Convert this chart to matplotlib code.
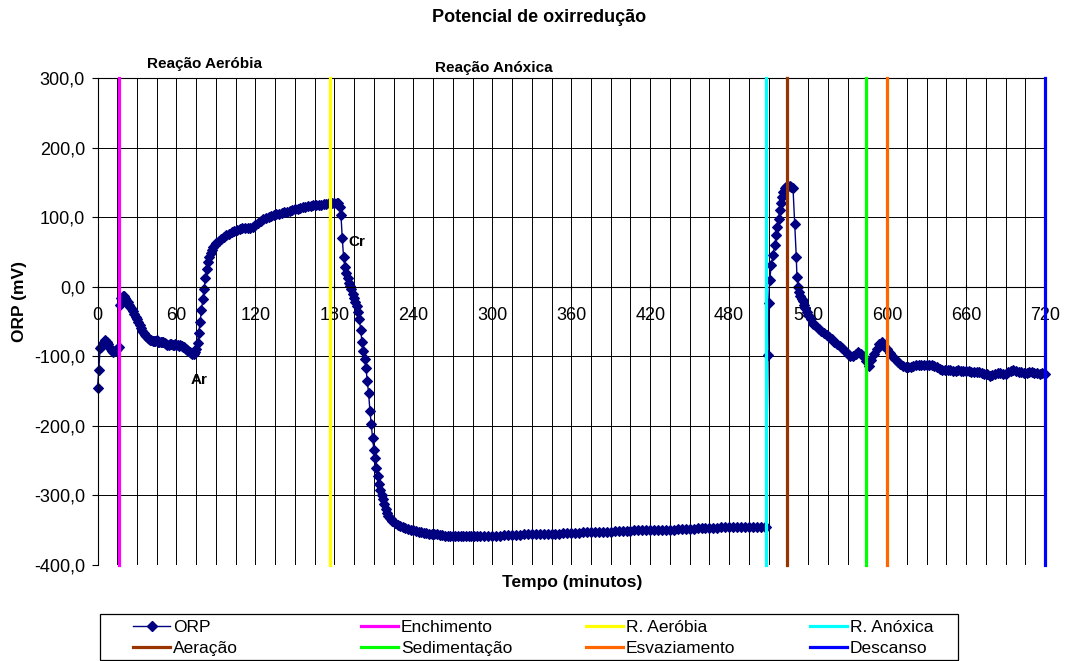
import numpy as np
import matplotlib
matplotlib.use("Agg")
import matplotlib.pyplot as plt
from matplotlib.lines import Line2D
from matplotlib.patches import Rectangle
from matplotlib.ticker import MultipleLocator, FuncFormatter

plt.rcParams['font.family'] = ['Liberation Sans', 'DejaVu Sans']

# ORP readings (mV), sampled at irregular steps along the 720 min cycle
t_seg1 = np.arange(0, 91, 1)
orp_seg1 = [-145, -119, -88, -86, -82, -79, -77, -79, -83, -86,
            -89, -92, -94, -93, -91, -89, -87, -26, -16, -13,
            -14, -16, -19, -22, -26, -29, -32, -35, -39, -43,
            -47, -51, -55, -59, -63, -66, -69, -71, -73, -75,
            -76, -77, -78, -78, -78, -77, -79, -80, -80, -79,
            -80, -81, -83, -84, -84, -83, -83, -84, -84, -83,
            -84, -84, -85, -84, -85, -86, -87, -89, -91, -93,
            -94, -95, -96, -96, -94, -90, -81, -66, -50, -34,
            -18, -3, 12, 25, 35, 42, 48, 53, 57, 60,
            63]

t_seg2 = np.arange(92, 183, 2)
orp_seg2 = [66, 68, 71, 74, 76, 78, 80, 82, 83, 84,
            84, 85, 85, 86, 88, 92, 95, 97, 99, 100,
            101, 103, 104, 105, 106, 107, 108, 109, 110, 111,
            112, 113, 114, 115, 116, 116, 117, 117, 118, 118,
            119, 119, 120, 120, 121, 121]

t_seg3 = np.arange(183, 225, 1)
orp_seg3 = [120, 115, 103, 70, 42, 29, 20, 13, 6, 1,
            -4, -10, -16, -22, -28, -36, -46, -62, -80, -93,
            -104, -117, -135, -153, -178, -198, -217, -234, -246, -260,
            -272, -284, -292, -299, -305, -313, -320, -325, -329, -332,
            -334, -337]

t_seg4 = np.arange(226, 289, 2)
orp_seg4 = [-340, -342, -344, -346, -347, -348, -349, -350, -351, -352,
            -353, -354, -354, -355, -355, -356, -356, -357, -357, -358,
            -358, -358, -358, -359, -359, -359, -359, -359, -359, -359,
            -359, -359]

t_seg5 = np.arange(291, 508, 3)
orp_seg5 = [-359, -358, -358, -358, -358, -358, -357, -357, -357, -357,
            -357, -356, -356, -356, -356, -356, -355, -355, -355, -355,
            -355, -354, -354, -354, -354, -354, -353, -353, -353, -353,
            -352, -352, -352, -352, -351, -351, -351, -351, -351, -350,
            -350, -350, -350, -350, -349, -349, -349, -349, -349, -349,
            -348, -348, -348, -348, -348, -347, -347, -347, -347, -347,
            -347, -346, -346, -346, -346, -346, -346, -346, -345, -345,
            -346, -346, -346]

t_seg6 = [508, 509.5, 510, 510.8, 512, 513.3, 514.6, 515.9, 516.7, 517.7,
          518.4, 519.2, 520.2, 521, 522.2, 523, 524, 525, 526, 527,
          528.5, 529.8, 531, 531.5, 532.3, 533, 534, 535, 536, 537,
          538, 539, 540]
orp_seg6 = [-346, -98, -24, 10, 31, 45, 60, 74, 86, 98,
            110, 120, 129, 136, 142, 144, 145, 145, 145, 144,
            142, 90, 43, 14, 0, -7, -13, -17, -21, -26,
            -31, -36, -40]

t_seg7 = np.arange(542, 721, 2)
orp_seg7 = [-47, -53, -57, -61, -64, -67, -70, -72, -75, -79,
            -82, -85, -88, -93, -97, -100, -100, -96, -94, -96,
            -100, -107, -114, -106, -97, -89, -83, -80, -85, -90,
            -95, -100, -104, -108, -111, -114, -116, -116, -115, -114,
            -113, -113, -113, -112, -112, -113, -113, -114, -116, -118,
            -119, -119, -120, -120, -121, -121, -120, -121, -121, -121,
            -121, -122, -122, -122, -123, -124, -125, -126, -128, -127,
            -125, -124, -124, -125, -125, -122, -121, -120, -121, -122,
            -123, -124, -124, -123, -123, -124, -124, -125, -124, -126]

tempo = np.concatenate([t_seg1, t_seg2, t_seg3, t_seg4, t_seg5, t_seg6, t_seg7])
orp = np.concatenate([orp_seg1, orp_seg2, orp_seg3, orp_seg4, orp_seg5, orp_seg6, orp_seg7])

# start of each stage of the cycle (min)
etapas = ['Enchimento', 'R. Aeróbia', 'R. Anóxica', 'Aeração',
          'Sedimentação', 'Esvaziamento', 'Descanso']
etapas_t = [16, 177, 508, 524, 584, 600, 720]
etapas_cor = ['#FF00FF', '#FFFF00', '#00FFFF', '#993300',
              '#00FF00', '#FF6600', '#0000FF']

W, H = 1070, 661
fig = plt.figure(figsize=(W / 100, H / 100), dpi=100)
ax = fig.add_axes([97.5 / W, 1 - 565 / H, (1045 - 97.5) / W, (565 - 78) / H])

ax.set_xlim(0, 720)
ax.set_ylim(-400, 300)
ax.xaxis.set_major_locator(MultipleLocator(60))
ax.xaxis.set_minor_locator(MultipleLocator(15))
ax.yaxis.set_major_locator(MultipleLocator(100))
ax.yaxis.set_major_formatter(FuncFormatter(lambda v, _: f"{v:.1f}".replace('.', ',')))

ax.set_axisbelow(True)
ax.grid(which='both', axis='x', color='black', lw=0.7)
ax.grid(which='major', axis='y', color='black', lw=0.7)

ax.spines['bottom'].set_position(('data', 0))
for s in ['top', 'right', 'left', 'bottom']:
    ax.spines[s].set_linewidth(0.8)
ax.tick_params(axis='x', which='major', length=5, direction='inout', pad=12, labelsize=13)
ax.tick_params(axis='x', which='minor', length=0)
ax.tick_params(axis='y', length=4, direction='out', pad=5, labelsize=13)

ax.plot(tempo, orp, color='#000080', lw=1.0, marker='D', ms=5.0,
        mfc='#000080', mec='#000080', mew=0.8, zorder=2.5, clip_on=False)

for t, c in zip(etapas_t, etapas_cor):
    ax.axvline(t, color=c, lw=2.3, zorder=3, clip_on=False)

# annotations
ax.text(81, 320, 'Reação Aeróbia', ha='center', va='center', fontsize=11,
        fontweight='bold', clip_on=False)
ax.text(301, 315, 'Reação Anóxica', ha='center', va='center', fontsize=11,
        fontweight='bold', clip_on=False)
ax.text(77, -134, 'Ar', ha='center', va='center', fontsize=11, fontweight='bold')
ax.text(197, 64, 'Cr', ha='center', va='center', fontsize=11, fontweight='bold')

fig.text(539 / W, 1 - 17 / H, 'Potencial de oxirredução', ha='center', va='center',
         fontsize=13, fontweight='bold')
fig.text(572 / W, 1 - 583 / H, 'Tempo (minutos)', ha='center', va='center',
         fontsize=12.5, fontweight='bold')
fig.text(20 / W, 1 - 302 / H, 'ORP (mV)', ha='center', va='center', rotation=90,
         fontsize=12.5, fontweight='bold')

# legend box, four columns by two rows
fig.add_artist(Rectangle((100 / W, 1 - 660 / H), (958 - 100) / W, (660 - 614) / H,
                         transform=fig.transFigure, fill=False, ec='black', lw=0.9))
col_x = [133, 361, 586, 810]
row_y = [626, 647]
entradas = [('ORP', '#000080', True)] + [(n, c, False) for n, c in zip(etapas, etapas_cor)]
for i, (nome, cor, marca) in enumerate(entradas):
    x0 = col_x[i % 4]
    yl = row_y[i // 4]
    y0 = 1 - yl / H
    if marca:
        fig.add_artist(Line2D([x0 / W, (x0 + 37) / W], [y0, y0], transform=fig.transFigure,
                              color=cor, lw=1.0))
        fig.add_artist(Line2D([(x0 + 18.5) / W], [y0], transform=fig.transFigure,
                              color=cor, marker='D', ms=5.0, lw=0))
    else:
        fig.add_artist(Line2D([x0 / W, (x0 + 37) / W], [y0, y0], transform=fig.transFigure,
                              color=cor, lw=2.3))
    fig.text((x0 + 40) / W, 1 - (yl + 6) / H, nome, ha='left', va='baseline', fontsize=12.5)

fig.savefig('out.png', dpi=100)
